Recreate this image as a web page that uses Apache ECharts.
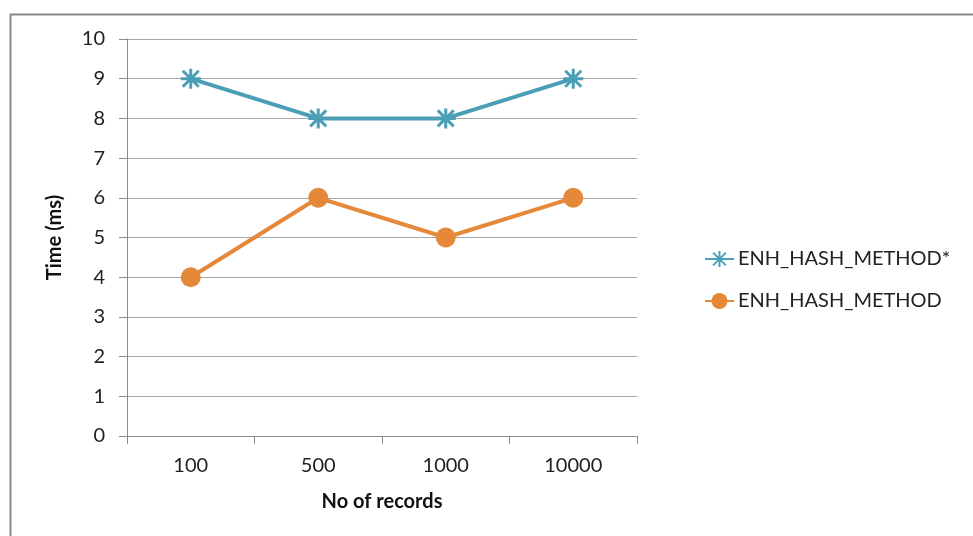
<!DOCTYPE html>
<html><head><meta charset="utf-8">
<script src="https://cdn.jsdelivr.net/npm/echarts@6/dist/echarts.min.js"></script>
<style>html,body{margin:0;padding:0;background:#fff}#c{width:973px;height:536px}</style>
</head><body><div id="c"></div>
<script>
const categories = ['100', '500', '1000', '10000'];
const seriesNames = ['ENH_HASH_METHOD*', 'ENH_HASH_METHOD'];
const starValues = [9, 8, 8, 9];
const circleValues = [4, 6, 5, 6];
const yTicks = { min: 0, max: 10, interval: 1 };

const font = 'Lato, "Open Sans", sans-serif';
const blue = '#4A9FB7';
const orange = '#E5883A';
const star = 'path://M0,-10L0,10M-8,-8L8,8M-8,8L8,-8M-10,0L10,0';

const chart = echarts.init(document.getElementById('c'));
chart.setOption({
  animation: false,
  backgroundColor: '#fff',
  graphic: [{
    type: 'rect', left: 8, top: 12,
    shape: { width: 1000, height: 600 },
    style: { fill: 'none', stroke: '#888', lineWidth: 2 }, z: -1
  }],
  grid: { left: 127, top: 39, width: 510, height: 397, containLabel: false },
  legend: {
    orient: 'vertical', left: 699, top: 244, itemGap: 22,
    itemWidth: 29, itemHeight: 20, itemStyle: {},
    textStyle: { fontFamily: font, fontSize: 20, color: '#222', padding: [0, 0, 0, -1] },
    data: seriesNames
  },
  xAxis: {
    type: 'category', data: categories, boundaryGap: true,
    name: 'No of records', nameLocation: 'middle', nameGap: 56,
    nameTextStyle: { fontFamily: font, fontSize: 20, fontWeight: 'bold', color: '#111' },
    axisLine: { lineStyle: { color: '#8c8c8c', width: 1 } },
    axisTick: { show: true, length: 8, inside: false, alignWithLabel: false, lineStyle: { color: '#8c8c8c' } },
    axisLabel: { fontFamily: font, fontSize: 20, color: '#222', margin: 20 },
    splitLine: { show: false }
  },
  yAxis: {
    type: 'value', min: yTicks.min, max: yTicks.max, interval: yTicks.interval,
    name: 'Time (ms)', nameLocation: 'middle', nameGap: 62, nameRotate: 90,
    nameTextStyle: { fontFamily: font, fontSize: 20, fontWeight: 'bold', color: '#111' },
    axisLine: { show: true, lineStyle: { color: '#8c8c8c' } },
    axisTick: { show: true, length: 8, lineStyle: { color: '#8c8c8c' } },
    axisLabel: { fontFamily: font, fontSize: 20, color: '#222', margin: 22 },
    splitLine: { show: true, lineStyle: { color: '#a6a6a6', width: 1 } }
  },
  series: [
    {
      name: seriesNames[0], type: 'line', data: starValues,
      symbol: star, symbolSize: 20, showSymbol: true,
      lineStyle: { color: blue, width: 4 },
      itemStyle: { color: blue, borderColor: blue, borderWidth: 3 }
    },
    {
      name: seriesNames[1], type: 'line', data: circleValues,
      symbol: 'circle', symbolSize: 20,
      lineStyle: { color: orange, width: 4 },
      itemStyle: { color: orange, borderWidth: 0 }
    }
  ]
});
</script></body></html>
